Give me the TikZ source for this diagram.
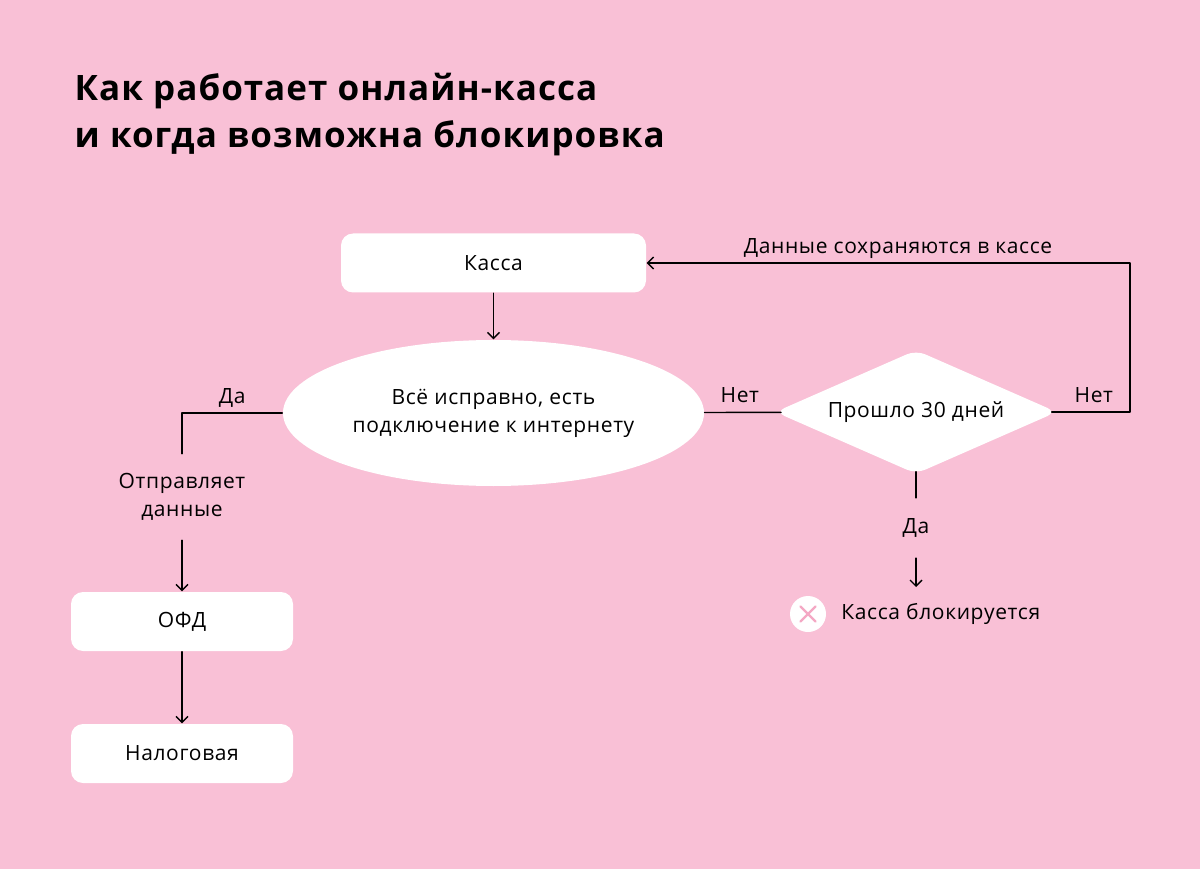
\documentclass[tikz,border=0pt]{standalone}
\usepackage{fontspec}
\setmainfont{Open Sans}[LetterSpace=3]
\usepackage{xcolor}
\usetikzlibrary{shapes.geometric,shapes.misc,arrows.meta,positioning}
\definecolor{bgpink}{RGB}{249,192,214}
\definecolor{crosspink}{RGB}{244,168,196}

\begin{document}
\begin{tikzpicture}[x=1pt,y=-1pt, line cap=round,line join=round,
  >={Straight Barb[length=6pt,width=12pt]},
  every node/.style={font=\fontsize{21}{28}\selectfont, text=black},
  every path/.style={line width=1.4pt},
  box/.style={fill=white, rounded corners=12pt, inner sep=0pt, minimum height=59pt},
  lbl/.style={above=9pt, inner sep=0pt, text depth=0pt},
  note/.style={align=center, inner xsep=0pt, inner ysep=19pt}]
\fill[bgpink] (0,0) rectangle (1200,869);
\useasboundingbox (0,0) rectangle (1200,869);
% title
\node[anchor=north west, align=left, inner sep=0pt,
      font=\fontsize{35}{47}\selectfont\bfseries] (title) at (74,72)
  {Как работает онлайн-касса\\и когда возможна блокировка};
% main row
\node[box, minimum width=305pt] (kassa) at (493.5,263) {Касса};
\node[ellipse, fill=white, inner sep=0pt, minimum width=421pt, minimum height=146pt,
      align=center] (check) at (493.5,413)
  {Всё исправно, есть\\подключение к интернету};
\node[diamond, fill=white, inner sep=0pt, aspect=2.27, minimum width=282pt,
      minimum height=124pt, rounded corners=10pt] (days) at (916,412) {Прошло 30 дней};
% left branch
\node[note] (send) at (182,497) {Отправляет\\данные};
\node[box, minimum width=222pt] (ofd) at (182,621.5) {ОФД};
\node[box, minimum width=222pt] (tax) at (182,753.5) {Налоговая};
% right branch
\node[note, inner ysep=20pt] (yes) at (916,528) {Да};
\coordinate (stop) at (916,587);
\node[circle, fill=white, minimum size=36pt, inner sep=0pt] (icon) at (808,614) {};
\node[cross out, draw=crosspink, line width=2.2pt, minimum size=13pt, inner sep=0pt] at (icon) {};
\node[right=14pt of icon, inner sep=0pt] (blocked) {Касса блокируется};
\coordinate (turn) at (1130,412);

\draw[->] (kassa) -- (check);
\draw[shorten >=-6pt] (check) -- node[lbl]{Нет} (days);
\draw[->, shorten <=-6pt] (days.east) -- node[lbl]{Нет} (turn) |- node[pos=0.74, lbl]{Данные сохраняются в кассе} (kassa.east);
\draw (check.west) -| node[pos=0.25, lbl]{Да} (send.north);
\draw[->] (send) -- (ofd);
\draw[->] (ofd) -- (tax);
\draw[shorten <=-3pt] (days.south) -- (yes.north);
\draw[->] (yes.south) -- (stop);
\end{tikzpicture}
\end{document}
